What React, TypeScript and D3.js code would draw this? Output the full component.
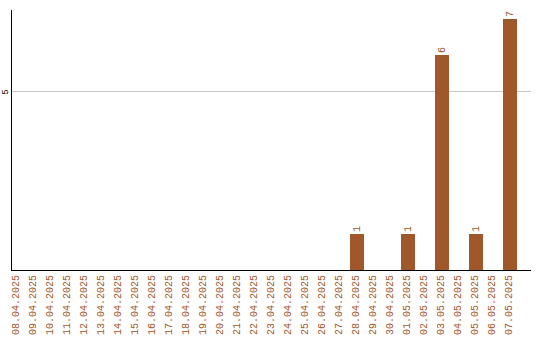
import React, { useEffect, useRef } from "react";
import * as d3 from "d3";

const dates: string[] = [
  "08.04.2025", "09.04.2025", "10.04.2025", "11.04.2025", "12.04.2025",
  "13.04.2025", "14.04.2025", "15.04.2025", "16.04.2025", "17.04.2025",
  "18.04.2025", "19.04.2025", "20.04.2025", "21.04.2025", "22.04.2025",
  "23.04.2025", "24.04.2025", "25.04.2025", "26.04.2025", "27.04.2025",
  "28.04.2025", "29.04.2025", "30.04.2025", "01.05.2025", "02.05.2025",
  "03.05.2025", "04.05.2025", "05.05.2025", "06.05.2025", "07.05.2025",
];
const counts: number[] = [
  0, 0, 0, 0, 0, 0, 0, 0, 0, 0,
  0, 0, 0, 0, 0, 0, 0, 0, 0, 0,
  1, 0, 0, 1, 0, 6, 0, 1, 0, 7,
];
const yTicks: number[] = [5];

const W = 540;
const H = 340;
const BAR = "#a0582a";
const FONT = "'Liberation Mono', 'DejaVu Sans Mono', monospace";

export default function App() {
  const ref = useRef<SVGSVGElement>(null);

  useEffect(() => {
    const svg = d3.select(ref.current);
    svg.selectAll("*").remove();

    const axisX = 11;
    const axisRight = 531;
    const baseY = 270;
    const topY = 10;

    const x = d3.scaleBand<string>()
      .domain(dates)
      .range([8.5, 518.5])
      .paddingInner(3 / 17)
      .paddingOuter(1.5 / 17);
    const y = d3.scaleLinear().domain([0, 7.26]).range([baseY, topY]);

    // horizontal gridlines
    svg.append("g")
      .selectAll("line")
      .data(yTicks)
      .join("line")
      .attr("x1", axisX)
      .attr("x2", axisRight)
      .attr("y1", (d) => Math.round(y(d)) + 0.5)
      .attr("y2", (d) => Math.round(y(d)) + 0.5)
      .attr("stroke", "#c8c8c8")
      .attr("stroke-width", 1);

    // y tick labels, rotated
    svg.append("g")
      .selectAll("text")
      .data(yTicks)
      .join("text")
      .attr("transform", (d) => `translate(8,${Math.round(y(d)) + 1}) rotate(-90)`)
      .attr("text-anchor", "middle")
      .attr("font-family", FONT)
      .attr("font-size", 9)
      .attr("fill", "#000")
      .text((d) => String(d));

    // bars
    const data = dates.map((d, i) => ({ d, v: counts[i] }));
    svg.append("g")
      .selectAll("rect")
      .data(data.filter((e) => e.v > 0))
      .join("rect")
      .attr("x", (e) => Math.round(x(e.d)!))
      .attr("y", (e) => Math.round(y(e.v)))
      .attr("width", Math.round(x.bandwidth()))
      .attr("height", (e) => baseY - Math.round(y(e.v)))
      .attr("fill", BAR)
      .attr("shape-rendering", "crispEdges");

    // value labels above bars
    svg.append("g")
      .selectAll("text")
      .data(data.filter((e) => e.v > 0))
      .join("text")
      .attr("transform", (e) =>
        `translate(${Math.round(x(e.d)! + x.bandwidth() / 2) + 3},${Math.round(y(e.v)) - 2}) rotate(-90)`)
      .attr("text-anchor", "start")
      .attr("font-family", FONT)
      .attr("font-size", 10)
      .attr("fill", BAR)
      .text((e) => String(e.v));

    // axes lines
    svg.append("line")
      .attr("x1", axisX + 0.5).attr("x2", axisX + 0.5)
      .attr("y1", topY).attr("y2", baseY + 1)
      .attr("stroke", "#000").attr("stroke-width", 1);
    svg.append("line")
      .attr("x1", axisX).attr("x2", axisRight)
      .attr("y1", baseY + 0.5).attr("y2", baseY + 0.5)
      .attr("stroke", "#000").attr("stroke-width", 1);

    // x category labels, rotated
    svg.append("g")
      .selectAll("text")
      .data(dates)
      .join("text")
      .attr("transform", (d) =>
        `translate(${Math.round(x(d)! + x.bandwidth() / 2) + 2},275) rotate(-90)`)
      .attr("text-anchor", "end")
      .attr("font-family", FONT)
      .attr("font-size", 10)
      .attr("fill", BAR)
      .text((d) => d);
  }, []);

  return (
    <svg
      ref={ref}
      width={W}
      height={H}
      style={{ position: "absolute", left: 0, top: 0, background: "#fff" }}
    />
  );
}
